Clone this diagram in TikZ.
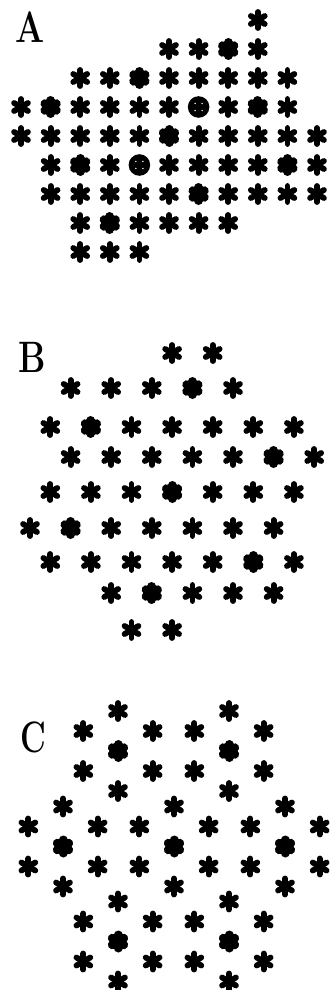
\documentclass[tikz,border=0pt]{standalone}
\usetikzlibrary{calc}
\begin{document}
\begin{tikzpicture}[x=1pt,y=-1pt,
  star/.pic={\foreach \a in {30,90,...,330} \draw[line width=5.8pt,line cap=round] (0,0) -- (\a:8);},
  blob/.pic={\fill (0,0) circle (8.5); \foreach \a in {30,90,...,330} \draw[line width=9pt,line cap=round] (0,0) -- (\a:6.5);},
  disc/.pic={\fill (0,0) circle (10.8); \foreach \a in {45,135,225,315} \fill[white] (\a:5) circle (0.8);},
  lab/.style={inner sep=0pt,font=\fontsize{44}{44}\selectfont\bfseries}]
\useasboundingbox (0,0) rectangle (330,990);
% Panel A
\node[lab] (la) at (30,27) {\scalebox{0.78}[1]{A}};
\foreach \r/\ks in {0/{8},1/{5,6,8},2/{2,3,5,6,7,8,9},3/{0,2,3,4,5,7,9},4/{0,1,2,3,4,6,7,8,9,10},5/{1,3,5,6,7,8,10},6/{1,2,3,4,5,7,8,9,10},7/{2,4,5,6,7},8/{2,3,4}}
  \foreach \k in \ks \pic at ({21+29.6*\k},{20+29*\r}) {star};
\foreach \k/\r in {7/1,4/2,1/3,8/3,5/4,2/5,9/5,6/6,3/7}
  \pic at ({21+29.6*\k},{20+29*\r}) {blob};
\foreach \k/\r in {6/3,4/5}
  \pic at ({21+29.6*\k},{20+29*\r}) {disc};
% Panel B
\node[lab] (lb) at (32,357) {\scalebox{0.78}[1]{B}};
\foreach \y/\ms in {353/{7,9},388/{2,4,6,10},427/{1,5,7,9,11,13},457/{2,4,6,8,10,14},492/{1,3,5,9,11,13},528/{0,4,6,8,10,12},562/{1,3,5,7,9,13},593/{4,8,10,12},630/{5,7}}
  \foreach \m in \ms \pic at ({30+20.3*\m},\y) {star};
\foreach \m/\y in {8/388,3/427,12/457,7/492,2/528,11/562,6/593}
  \pic at ({30+20.3*\m},\y) {blob};
% Panel C
\node[lab] (lc) at (33,737) {\scalebox{0.72}[1]{C}};
\foreach \cx/\cy in {118/751,229/751,63/846.5,174/846.5,285/846.5,118/941.5,229/941.5}{
  \pic at (\cx,\cy) {blob};
  \foreach \a in {30,90,...,330} \pic at ($(\cx,\cy)+(\a:40)$) {star};
}
\end{tikzpicture}
\end{document}
